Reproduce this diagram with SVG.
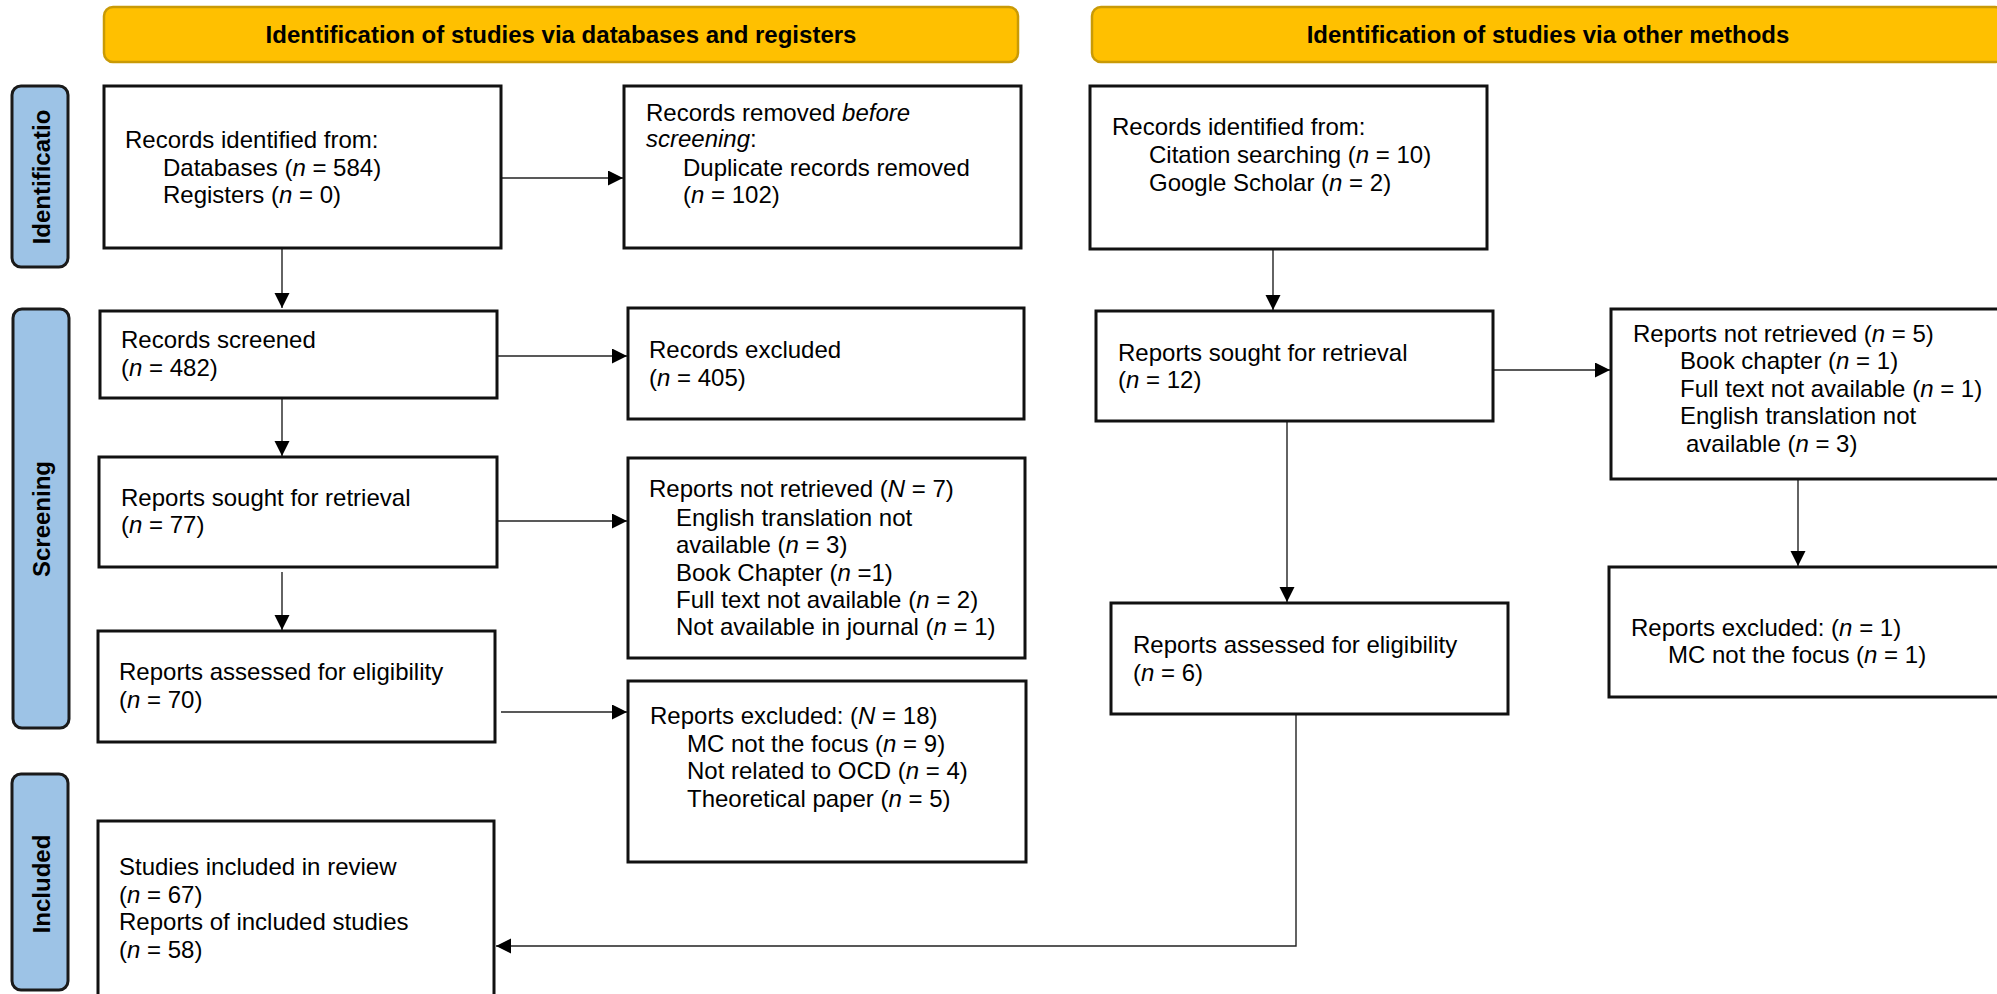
<svg xmlns="http://www.w3.org/2000/svg" width="1997" height="994" viewBox="0 0 1997 994">
<style>
text{font-family:"Liberation Sans",Arial,sans-serif;font-size:24px;fill:#000}
.hdr{fill:#FFC000;stroke:#C99A06;stroke-width:2.5}
.hdrt{font-weight:bold;text-anchor:middle}
.bar{fill:#9DC3E6;stroke:#1a1a1a;stroke-width:3}
.bart{font-weight:bold;text-anchor:middle}
.box{fill:#fff;stroke:#111;stroke-width:3}
.i{font-style:italic}
.con{fill:none;stroke:#222;stroke-width:1.4}
</style>
<defs>
<marker id="ah" markerUnits="userSpaceOnUse" markerWidth="16" markerHeight="16" refX="15" refY="7.5" orient="auto">
<path d="M0,0 L15,7.5 L0,15 z" fill="#000"/>
</marker>
</defs>
<rect width="1997" height="994" fill="#fff"/>

<g id="header-databases">
<rect class="hdr" x="104" y="7" width="914" height="55" rx="9"/>
<text class="hdrt" x="561" y="43">Identification of studies via databases and registers</text>
</g>
<g id="header-other">
<rect class="hdr" x="1092" y="7" width="912" height="55" rx="9"/>
<text class="hdrt" x="1548" y="43">Identification of studies via other methods</text>
</g>

<g id="phase-identification">
<rect class="bar" x="12" y="86" width="56" height="181" rx="9"/>
<text class="bart" transform="translate(50,177) rotate(-90)">Identificatio</text>
</g>
<g id="phase-screening">
<rect class="bar" x="13" y="309" width="56" height="419" rx="9"/>
<text class="bart" transform="translate(50,519) rotate(-90)">Screening</text>
</g>
<g id="phase-included">
<rect class="bar" x="12" y="774" width="56" height="216" rx="9"/>
<text class="bart" transform="translate(50,884) rotate(-90)">Included</text>
</g>

<g id="connectors">
<line class="con" x1="282" y1="248" x2="282" y2="308" marker-end="url(#ah)"/>
<line class="con" x1="282" y1="398" x2="282" y2="456" marker-end="url(#ah)"/>
<line class="con" x1="282" y1="572" x2="282" y2="630" marker-end="url(#ah)"/>
<line class="con" x1="501" y1="178" x2="623" y2="178" marker-end="url(#ah)"/>
<line class="con" x1="497" y1="356" x2="627" y2="356" marker-end="url(#ah)"/>
<line class="con" x1="497" y1="521" x2="627" y2="521" marker-end="url(#ah)"/>
<line class="con" x1="501" y1="712" x2="627" y2="712" marker-end="url(#ah)"/>
<line class="con" x1="1273" y1="249" x2="1273" y2="310" marker-end="url(#ah)"/>
<line class="con" x1="1493" y1="370" x2="1610" y2="370" marker-end="url(#ah)"/>
<line class="con" x1="1287" y1="421" x2="1287" y2="602" marker-end="url(#ah)"/>
<line class="con" x1="1798" y1="479" x2="1798" y2="566" marker-end="url(#ah)"/>
<polyline class="con" points="1296,714 1296,946 496,946" marker-end="url(#ah)"/>
</g>

<g id="records-identified">
<rect class="box" x="104" y="86" width="397" height="162"/>
<text x="125" y="148">Records identified from:</text>
<text x="163" y="176">Databases (<tspan class="i">n</tspan> = 584)</text>
<text x="163" y="203">Registers (<tspan class="i">n</tspan> = 0)</text>
</g>
<g id="records-removed">
<rect class="box" x="624" y="86" width="397" height="162"/>
<text x="646" y="121">Records removed <tspan class="i">before</tspan></text>
<text x="646" y="147"><tspan class="i">screening</tspan>:</text>
<text x="683" y="176">Duplicate records removed</text>
<text x="683" y="203">(<tspan class="i">n</tspan> = 102)</text>
</g>
<g id="records-screened">
<rect class="box" x="100" y="311" width="397" height="87"/>
<text x="121" y="348">Records screened</text>
<text x="121" y="376">(<tspan class="i">n</tspan> = 482)</text>
</g>
<g id="records-excluded">
<rect class="box" x="628" y="308" width="396" height="111"/>
<text x="649" y="358">Records excluded</text>
<text x="649" y="386">(<tspan class="i">n</tspan> = 405)</text>
</g>
<g id="reports-sought">
<rect class="box" x="99" y="457" width="398" height="110"/>
<text x="121" y="506">Reports sought for retrieval</text>
<text x="121" y="533">(<tspan class="i">n</tspan> = 77)</text>
</g>
<g id="reports-not-retrieved">
<rect class="box" x="628" y="458" width="397" height="200"/>
<text x="649" y="497">Reports not retrieved (<tspan class="i">N</tspan> = 7)</text>
<text x="676" y="526">English translation not</text>
<text x="676" y="553">available (<tspan class="i">n</tspan> = 3)</text>
<text x="676" y="581">Book Chapter (<tspan class="i">n</tspan> =1)</text>
<text x="676" y="608">Full text not available (<tspan class="i">n</tspan> = 2)</text>
<text x="676" y="635">Not available in journal (<tspan class="i">n</tspan> = 1)</text>
</g>
<g id="reports-assessed">
<rect class="box" x="98" y="631" width="397" height="111"/>
<text x="119" y="680">Reports assessed for eligibility</text>
<text x="119" y="708">(<tspan class="i">n</tspan> = 70)</text>
</g>
<g id="reports-excluded">
<rect class="box" x="628" y="681" width="398" height="181"/>
<text x="650" y="724">Reports excluded: (<tspan class="i">N</tspan> = 18)</text>
<text x="687" y="752">MC not the focus (<tspan class="i">n</tspan> = 9)</text>
<text x="687" y="779">Not related to OCD (<tspan class="i">n</tspan> = 4)</text>
<text x="687" y="807">Theoretical paper (<tspan class="i">n</tspan> = 5)</text>
</g>
<g id="studies-included">
<rect class="box" x="98" y="821" width="396" height="180"/>
<text x="119" y="875">Studies included in review</text>
<text x="119" y="903">(<tspan class="i">n</tspan> = 67)</text>
<text x="119" y="930">Reports of included studies</text>
<text x="119" y="958">(<tspan class="i">n</tspan> = 58)</text>
</g>

<g id="other-records-identified">
<rect class="box" x="1090" y="86" width="397" height="163"/>
<text x="1112" y="135">Records identified from:</text>
<text x="1149" y="163">Citation searching (<tspan class="i">n</tspan> = 10)</text>
<text x="1149" y="191">Google Scholar (<tspan class="i">n</tspan> = 2)</text>
</g>
<g id="other-reports-sought">
<rect class="box" x="1096" y="311" width="397" height="110"/>
<text x="1118" y="361">Reports sought for retrieval</text>
<text x="1118" y="388">(<tspan class="i">n</tspan> = 12)</text>
</g>
<g id="other-reports-not-retrieved">
<rect class="box" x="1611" y="309" width="392" height="170"/>
<text x="1633" y="342">Reports not retrieved (<tspan class="i">n</tspan> = 5)</text>
<text x="1680" y="369">Book chapter (<tspan class="i">n</tspan> = 1)</text>
<text x="1680" y="397">Full text not available (<tspan class="i">n</tspan> = 1)</text>
<text x="1680" y="424">English translation not</text>
<text x="1686" y="452">available (<tspan class="i">n</tspan> = 3)</text>
</g>
<g id="other-reports-assessed">
<rect class="box" x="1111" y="603" width="397" height="111"/>
<text x="1133" y="653">Reports assessed for eligibility</text>
<text x="1133" y="681">(<tspan class="i">n</tspan> = 6)</text>
</g>
<g id="other-reports-excluded">
<rect class="box" x="1609" y="567" width="394" height="130"/>
<text x="1631" y="636">Reports excluded: (<tspan class="i">n</tspan> = 1)</text>
<text x="1668" y="663">MC not the focus (<tspan class="i">n</tspan> = 1)</text>
</g>
</svg>
